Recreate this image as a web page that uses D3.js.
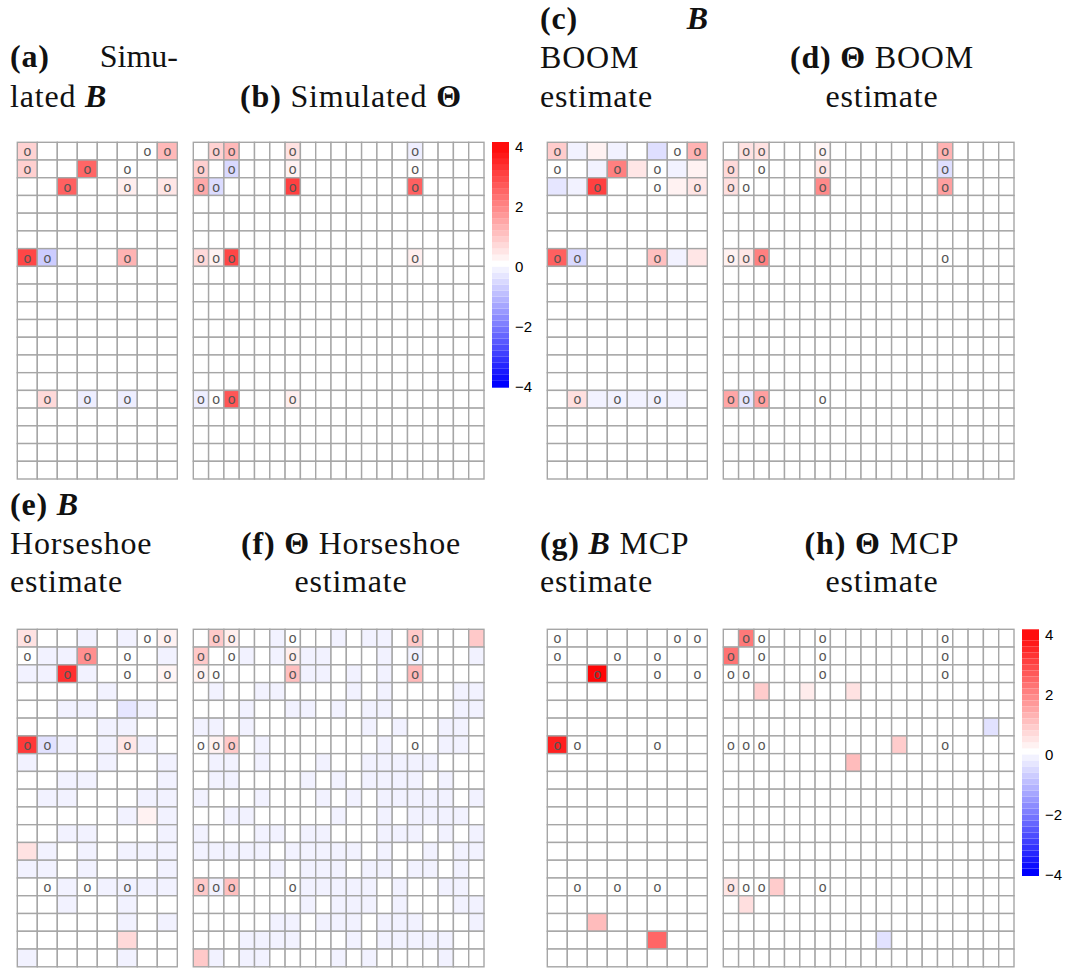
<!DOCTYPE html>
<html><head><meta charset="utf-8">
<script src="https://cdn.jsdelivr.net/npm/d3@7"></script>
<style>body{margin:0;background:#fff}text{white-space:pre}</style>
</head><body><svg id="c" width="1068" height="969" xmlns="http://www.w3.org/2000/svg"></svg>
<script>
const nRows = 19, nColsB = 8, nColsT = 19;
const colorTicks = [4, 2, 0, -2, -4];
const colorDomain = [-4, 0, 4];

// true non-zero positions [row, col] (marked with "o")
const supportB = [[0,0],[0,6],[0,7],[1,0],[1,3],[1,5],[2,2],[2,5],[2,7],[6,0],[6,1],[6,5],[14,1],[14,3],[14,5]];
const supportTheta = [[0,1],[0,2],[0,6],[0,14],[1,0],[1,2],[1,6],[1,14],[2,0],[2,1],[2,6],[2,14],[6,0],[6,1],[6,2],[6,14],[14,0],[14,1],[14,2],[14,6]];

// sparse panels: [row, col, value]
const simB = [[0,0,0.7],[0,7,1.1],[1,0,0.75],[1,3,2.4],[2,2,2.5],[2,5,0.27],[2,7,0.4],[6,0,2.9],[6,1,-0.8],[6,5,1.2],[14,1,0.6],[14,3,-0.27],[14,5,-0.27]];
const simTheta = [[0,1,0.7],[0,2,1.1],[0,6,0.45],[0,14,-0.25],[1,0,0.75],[1,2,-0.6],[1,6,0.2],[2,0,1.35],[2,1,-0.55],[2,6,3.0],[2,14,2.5],[6,0,0.6],[6,1,0.2],[6,2,2.9],[6,14,0.25],[14,0,-0.27],[14,2,2.65],[14,6,0.25]];
const boomB = [[0,0,0.8],[0,1,-0.2],[0,2,0.2],[0,3,-0.2],[0,5,-0.5],[0,7,1.2],[1,2,-0.2],[1,3,2.0],[1,4,0.4],[1,6,-0.2],[1,7,0.2],[2,0,-0.4],[2,1,-0.2],[2,2,3.0],[2,6,0.2],[2,7,0.4],[6,0,2.5],[6,1,-0.6],[6,5,1.0],[6,6,-0.2],[6,7,0.4],[14,1,0.5],[14,2,-0.2],[14,3,-0.2],[14,4,-0.2],[14,5,-0.2],[14,6,-0.2]];
const boomTheta = [[0,1,0.45],[0,2,0.45],[0,6,0.15],[0,14,1.2],[1,0,0.6],[1,6,0.4],[1,14,-0.5],[2,0,0.5],[2,6,1.85],[2,14,1.5],[6,0,0.2],[6,1,0.4],[6,2,2.0],[14,0,1.4],[14,1,-0.4],[14,2,1.5]];
const mcpB = [[2,2,3.9],[6,0,3.5],[16,2,1.05],[17,5,2.4]];
const mcpTheta = [[0,1,2.1],[1,0,2.2],[3,2,0.8],[3,5,0.3],[3,8,0.45],[5,17,-0.45],[6,11,0.8],[7,8,1.05],[14,0,0.4],[14,3,0.8],[15,1,0.5],[17,10,-0.45]];

// dense panels (rows of values)
const hsB = [
 [0.45,0,0,-0.2,0,-0.2,0,0.2],
 [0,-0.2,-0.2,1.75,0,0,0,-0.2],
 [-0.2,-0.2,3.25,-0.2,0,0,0,0.15],
 [0,0,0,0,-0.2,0,0,0],
 [0,0,-0.2,-0.2,0,-0.4,-0.2,0],
 [0,0,0,0,-0.2,-0.2,0,0],
 [3.1,-0.45,-0.2,0,-0.2,0.4,-0.2,0],
 [-0.2,0,0,0,-0.2,0,0,-0.2],
 [0,0,-0.2,-0.2,0,0,0,-0.2],
 [0,-0.2,-0.2,0,0,0,-0.2,-0.2],
 [0,0,0,0,0,-0.2,0.2,-0.2],
 [0,0,-0.2,-0.2,0,0,0,-0.2],
 [0.45,-0.2,0,-0.2,0,-0.2,-0.2,-0.2],
 [-0.2,-0.2,0,-0.2,0,0,0,-0.2],
 [0,0,-0.2,0,-0.2,-0.2,-0.2,-0.2],
 [0,0,-0.2,0,0,-0.2,0,0],
 [0,0,0,0,0,-0.2,0,-0.2],
 [0,0,0,0,0,0.6,0,0],
 [-0.2,0,0,0,0,-0.2,0,0]
];
const hsTheta = [
 [0,0.85,0.27,0,0,-0.2,0,0,0,-0.2,0,-0.2,-0.2,0,0.85,0,0,0,0.85],
 [0.85,0,0,-0.2,0,-0.2,0.27,-0.2,-0.2,0,0,0,-0.2,0,-0.2,0,0,0,-0.2],
 [0.2,0,0,0,0,0,1.0,-0.2,-0.2,0,-0.2,0,-0.2,0,1.1,0,0,0,0],
 [0,-0.2,0,0,-0.2,-0.2,0,0,0,0,-0.2,0,-0.2,0,0,0,0,-0.2,-0.2],
 [0,0,0,-0.2,0,0,-0.2,-0.2,0,-0.2,0,-0.2,-0.2,0,0,0,0,-0.2,-0.2],
 [-0.2,-0.2,0,-0.2,0,0,0,0,0,0,0,-0.2,0,-0.2,0,0,-0.2,-0.2,0],
 [0,0.2,0.85,0,-0.2,0,0,0,0,0,0,0,-0.2,0,0,0,-0.2,-0.2,0],
 [0,-0.2,-0.2,0,-0.2,0,0,0,-0.2,0,0,-0.2,-0.2,-0.2,-0.2,-0.2,0,0,0],
 [0,-0.2,-0.2,0,0,0,0,-0.2,0,-0.2,0,-0.2,-0.2,-0.2,-0.2,0,-0.2,0,0],
 [-0.2,0,0,0,-0.2,0,0,0,-0.2,0,-0.2,0,-0.2,-0.2,-0.2,-0.2,-0.2,0,-0.2],
 [0,0,-0.2,-0.2,0,0,0,0,0,-0.2,0,0,-0.2,0,-0.2,-0.2,-0.2,-0.2,0],
 [-0.2,0,0,0,-0.2,-0.2,0,-0.2,-0.2,0,0,0,-0.2,-0.2,-0.2,0,-0.2,0,-0.2],
 [-0.2,-0.2,-0.2,-0.2,-0.2,0,-0.2,-0.2,-0.2,-0.2,-0.2,0,-0.2,0,0,-0.2,0,-0.2,-0.2],
 [0,0,0,0,0,-0.2,0,-0.2,-0.2,-0.2,0,-0.2,-0.2,0,-0.2,-0.2,0,-0.2,0],
 [0.85,-0.2,1.0,0,0,0,0,-0.2,-0.2,-0.2,-0.2,-0.2,0,-0.2,0,0,-0.2,-0.2,0],
 [0,0,0,0,0,0,0,-0.2,0,-0.2,-0.2,-0.2,0,-0.2,0,0,0,-0.2,-0.2],
 [0,0,0,0,0,-0.2,-0.2,0,-0.2,-0.2,-0.2,0,-0.2,-0.2,-0.2,0,0,0,-0.2],
 [0,0,0,-0.2,-0.2,-0.2,-0.2,0,0,0,-0.2,0,-0.2,-0.2,-0.2,-0.2,-0.2,0,0],
 [0.85,-0.2,0,-0.2,-0.2,0,0,0,0,-0.2,0,-0.2,0,0,0,0,-0.2,0,0]
];

const svg = d3.select("#c");
const color = d3.scaleLinear().domain(colorDomain).range(["#0000ff","#ffffff","#ff0000"]).clamp(true);

function toMatrix(sparse, nc) {
  const m = d3.range(nRows).map(() => d3.range(nc).map(() => 0));
  sparse.forEach(([r,c,v]) => { m[r][c] = v; });
  return m;
}

const top0 = 142.3, top1 = 479, bot0 = 629.3, bot1 = 966.8;
const panels = [
  {m: toMatrix(simB, nColsB), sup: supportB, x0: 17.3, x1: 177.3, y0: top0, y1: top1},
  {m: toMatrix(simTheta, nColsT), sup: supportTheta, x0: 193.3, x1: 484, y0: top0, y1: top1},
  {m: toMatrix(boomB, nColsB), sup: supportB, x0: 547.3, x1: 707.3, y0: top0, y1: top1},
  {m: toMatrix(boomTheta, nColsT), sup: supportTheta, x0: 723.3, x1: 1014, y0: top0, y1: top1},
  {m: hsB, sup: supportB, x0: 17.3, x1: 177.3, y0: bot0, y1: bot1},
  {m: hsTheta, sup: supportTheta, x0: 193.3, x1: 484, y0: bot0, y1: bot1},
  {m: toMatrix(mcpB, nColsB), sup: supportB, x0: 547.3, x1: 707.3, y0: bot0, y1: bot1},
  {m: toMatrix(mcpTheta, nColsT), sup: supportTheta, x0: 723.3, x1: 1014, y0: bot0, y1: bot1}
];

panels.forEach(p => {
  const nc = p.m[0].length;
  const xs = d3.scaleBand().domain(d3.range(nc)).range([p.x0, p.x1]);
  const ys = d3.scaleBand().domain(d3.range(nRows)).range([p.y0, p.y1]);
  const g = svg.append("g");
  const cells = [];
  p.m.forEach((row, r) => row.forEach((v, c) => cells.push({r, c, v})));
  g.selectAll("rect").data(cells).join("rect")
    .attr("x", d => xs(d.c)).attr("y", d => ys(d.r))
    .attr("width", xs.bandwidth()).attr("height", ys.bandwidth())
    .attr("fill", d => color(d.v))
    .attr("stroke", "#a6a6a6").attr("stroke-width", 1.4);
  g.selectAll("text").data(p.sup).join("text")
    .attr("x", d => xs(d[1]) + xs.bandwidth()/2)
    .attr("y", d => ys(d[0]) + ys.bandwidth()/2)
    .attr("dy", "0.1em")
    .attr("text-anchor", "middle").attr("dominant-baseline", "middle")
    .attr("font-family", "Liberation Sans, Arial, sans-serif").attr("font-size", 14)
    .attr("fill", "#555").text("o");
});

// colour bars
function colorbar(x, yTop, yBot) {
  const w = 17;
  const s = d3.scaleLinear().domain([-4, 4]).range([yBot - 1.5, yTop + 5]);
  const bins = d3.range(40).map(i => -4 + i * 0.2);
  const g = svg.append("g");
  g.selectAll("rect").data(bins).join("rect")
    .attr("x", x).attr("width", w)
    .attr("y", (d, i) => i === 39 ? yTop : s(d + 0.2))
    .attr("height", (d, i) => (i === 0 ? yBot : s(d)) - (i === 39 ? yTop : s(d + 0.2)))
    .attr("fill", d => color(d));
  g.selectAll("text").data(colorTicks).join("text")
    .attr("x", x + 23).attr("y", d => s(d))
    .attr("dy", "0.36em")
    .attr("font-family", "Liberation Sans, Arial, sans-serif").attr("font-size", 15)
    .attr("fill", "#000")
    .text(d => d < 0 ? "\u2212" + Math.abs(d) : String(d));
}
colorbar(492, 142, 387.7);
colorbar(1022, 629.3, 876);

// titles
const titles = [
  [10, 67, "start", [["(a)","b"]]],
  [178, 67, "end", [["Simu-",""]]],
  [10, 107, "start", [["lated ",""],["B","bi"]]],
  [351, 107, "middle", [["(b) ","b"],["Simulated ",""],["\u0398","b"]]],
  [540, 28.5, "start", [["(c)","b"]]],
  [708, 28.5, "end", [["B","bi"]]],
  [540, 68, "start", [["BOOM",""]]],
  [540, 107, "start", [["estimate",""]]],
  [882, 68, "middle", [["(d) ","b"],["\u0398","b"],[" BOOM",""]]],
  [882, 107, "middle", [["estimate",""]]],
  [10, 515, "start", [["(e) ","b"],["B","bi"]]],
  [10, 554, "start", [["Horseshoe",""]]],
  [10, 592, "start", [["estimate",""]]],
  [351, 554, "middle", [["(f) ","b"],["\u0398","b"],[" Horseshoe",""]]],
  [351, 592, "middle", [["estimate",""]]],
  [540, 554, "start", [["(g) ","b"],["B","bi"],[" MCP",""]]],
  [540, 592, "start", [["estimate",""]]],
  [882, 554, "middle", [["(h) ","b"],["\u0398","b"],[" MCP",""]]],
  [882, 592, "middle", [["estimate",""]]]
];
titles.forEach(([x, y, anchor, segs]) => {
  const t = svg.append("text").attr("x", x).attr("y", y).attr("text-anchor", anchor)
    .attr("font-family", "Liberation Serif, Times New Roman, serif").attr("font-size", 32)
    .attr("letter-spacing", anchor === "end" ? 0 : 0.8)
    .attr("fill", "#111");
  segs.forEach(([s, st]) => {
    t.append("tspan").text(s)
      .attr("font-weight", st.includes("b") ? "bold" : "normal")
      .attr("font-style", st.includes("i") ? "italic" : "normal");
  });
});
</script></body></html>
